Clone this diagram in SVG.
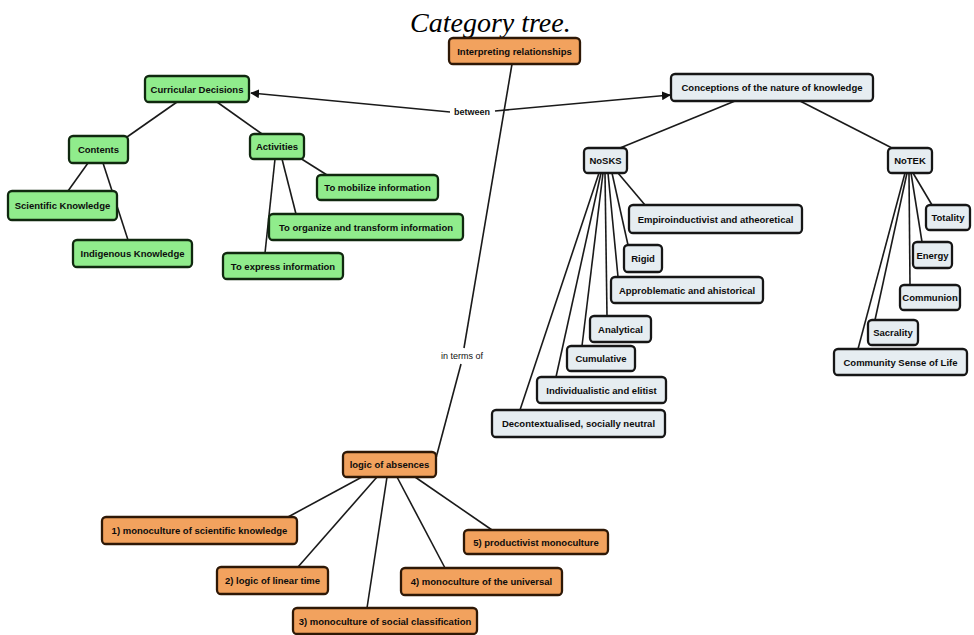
<svg xmlns="http://www.w3.org/2000/svg" width="974" height="635" viewBox="0 0 974 635">
  <defs>
    <marker id="arrow" viewBox="0 0 10 10" refX="9" refY="5" markerWidth="9" markerHeight="9" markerUnits="userSpaceOnUse" orient="auto-start-reverse">
      <path d="M0,0 L10,5 L0,10 Z" fill="#111"/>
    </marker>
    <style>
      .box rect { stroke: #161616; stroke-width: 2.3; }
      .green rect { fill: #90ec8c; stroke: #10280f; }
      .orange rect { fill: #f2a25e; stroke: #2e1806; }
      .grey rect { fill: #e6edf1; }
      .box text { font-family: "Liberation Sans", Arial, sans-serif; font-size: 9.5px; font-weight: bold; fill: #0c0c0c; text-anchor: middle; }
      .links line, .links path { stroke: #1a1a1a; stroke-width: 1.6; fill: none; }
      .lbl { font-family: "Liberation Sans", Arial, sans-serif; font-size: 9px; fill: #111; text-anchor: middle; }
      .title { font-family: "Liberation Serif", "Times New Roman", serif; font-style: italic; font-size: 28px; fill: #000; }
    </style>
  </defs>
  <rect width="974" height="635" fill="#fff"/>
  <text class="title" x="410" y="32">Category tree.</text>

  <!-- connectors -->
  <g id="connectors" class="links">
    <line x1="177" y1="102" x2="127" y2="137"/>
    <line x1="217" y1="102" x2="262" y2="134"/>
    <line x1="88" y1="163" x2="68" y2="191"/>
    <line x1="103" y1="163" x2="128" y2="240"/>
    <line x1="300" y1="158" x2="327" y2="175"/>
    <line x1="282" y1="159" x2="296" y2="214"/>
    <line x1="275" y1="159" x2="265" y2="253"/>
    <path d="M450,112 L251,93" marker-end="url(#arrow)"/>
    <path d="M495,111 L670,95" marker-end="url(#arrow)"/>
    <line x1="735" y1="101" x2="620" y2="148"/>
    <line x1="800" y1="101" x2="892" y2="148"/>
    <line x1="618" y1="173" x2="645" y2="205"/>
    <line x1="612" y1="173" x2="628" y2="245"/>
    <line x1="608" y1="173" x2="618" y2="277"/>
    <line x1="605" y1="173" x2="607" y2="316"/>
    <line x1="603" y1="173" x2="582" y2="346"/>
    <line x1="601" y1="173" x2="556" y2="377"/>
    <line x1="599" y1="173" x2="520" y2="410"/>
    <line x1="913" y1="173" x2="932" y2="205"/>
    <line x1="911" y1="173" x2="922" y2="242"/>
    <line x1="909" y1="173" x2="910" y2="285"/>
    <line x1="907" y1="173" x2="875" y2="320"/>
    <line x1="905" y1="173" x2="858" y2="349"/>
    <line x1="512" y1="64" x2="464" y2="348"/>
    <line x1="461" y1="364" x2="436" y2="458"/>
    <line x1="362" y1="477" x2="288" y2="517"/>
    <line x1="377" y1="477" x2="298" y2="567"/>
    <line x1="387" y1="477" x2="367" y2="608"/>
    <line x1="397" y1="477" x2="445" y2="568"/>
    <line x1="415" y1="477" x2="492" y2="530"/>
    <text class="lbl" x="472" y="115" font-weight="bold">between</text>
    <text class="lbl" x="462" y="359">in terms of</text>
  </g>

  <!-- curricular side -->
  <g id="n-curricular" class="box green"><rect x="145" y="76" width="104" height="26" rx="4"/><text x="197" y="92.5">Curricular Decisions</text></g>
  <g id="n-contents" class="box green"><rect x="69" y="136" width="59" height="27" rx="4"/><text x="98.5" y="153">Contents</text></g>
  <g id="n-activities" class="box green"><rect x="250" y="134" width="54" height="25" rx="4"/><text x="277" y="150">Activities</text></g>
  <g id="n-scientific" class="box green"><rect x="8" y="191" width="109" height="29" rx="4"/><text x="62.5" y="209">Scientific Knowledge</text></g>
  <g id="n-indigenous" class="box green"><rect x="73" y="240" width="119" height="27" rx="4"/><text x="132.5" y="257">Indigenous Knowledge</text></g>
  <g id="n-mobilize" class="box green"><rect x="317" y="175" width="121" height="25" rx="4"/><text x="377.5" y="191">To mobilize information</text></g>
  <g id="n-organize" class="box green"><rect x="269" y="214" width="194" height="26" rx="4"/><text x="366" y="230.5">To organize and transform information</text></g>
  <g id="n-express" class="box green"><rect x="223" y="253" width="120" height="26" rx="4"/><text x="283" y="269.5">To express information</text></g>

  <!-- relationship / absences -->
  <g id="n-interpreting" class="box orange"><rect x="449" y="38" width="131" height="26" rx="4"/><text x="514.5" y="54.5">Interpreting relationships</text></g>
  <g id="n-logic" class="box orange"><rect x="343" y="452" width="93" height="25" rx="4"/><text x="389.5" y="468">logic of absences</text></g>
  <g id="n-mono1" class="box orange"><rect x="102" y="517" width="195" height="27" rx="4"/><text x="199.5" y="534">1) monoculture of scientific knowledge</text></g>
  <g id="n-mono2" class="box orange"><rect x="217" y="567" width="111" height="27" rx="4"/><text x="272.5" y="584">2) logic of linear time</text></g>
  <g id="n-mono3" class="box orange"><rect x="293" y="608" width="184" height="26" rx="4"/><text x="385" y="624.5">3) monoculture of social classification</text></g>
  <g id="n-mono4" class="box orange"><rect x="401" y="568" width="161" height="27" rx="4"/><text x="481.5" y="585">4) monoculture of the universal</text></g>
  <g id="n-mono5" class="box orange"><rect x="464" y="530" width="144" height="24" rx="4"/><text x="536" y="545.5">5) productivist monoculture</text></g>

  <!-- knowledge conceptions -->
  <g id="n-conceptions" class="box grey"><rect x="671" y="74" width="202" height="27" rx="4"/><text x="772" y="91">Conceptions of the nature of knowledge</text></g>
  <g id="n-nosks" class="box grey"><rect x="584" y="148" width="43" height="25" rx="4"/><text x="605.5" y="164">NoSKS</text></g>
  <g id="n-notek" class="box grey"><rect x="888" y="148" width="44" height="25" rx="4"/><text x="910" y="164">NoTEK</text></g>
  <g id="n-empiro" class="box grey"><rect x="629" y="205" width="173" height="28" rx="4"/><text x="715.5" y="222.5">Empiroinductivist and atheoretical</text></g>
  <g id="n-rigid" class="box grey"><rect x="624" y="245" width="38" height="27" rx="4"/><text x="643" y="262">Rigid</text></g>
  <g id="n-approb" class="box grey"><rect x="611" y="277" width="152" height="26" rx="4"/><text x="687" y="293.5">Approblematic and ahistorical</text></g>
  <g id="n-analytical" class="box grey"><rect x="590" y="316" width="61" height="26" rx="4"/><text x="620.5" y="332.5">Analytical</text></g>
  <g id="n-cumulative" class="box grey"><rect x="567" y="346" width="68" height="25" rx="4"/><text x="601" y="362">Cumulative</text></g>
  <g id="n-individual" class="box grey"><rect x="537" y="377" width="129" height="26" rx="4"/><text x="601.5" y="393.5">Individualistic and elitist</text></g>
  <g id="n-decontext" class="box grey"><rect x="492" y="410" width="173" height="27" rx="4"/><text x="578.5" y="427">Decontextualised, socially neutral</text></g>
  <g id="n-totality" class="box grey"><rect x="926" y="205" width="44" height="25" rx="4"/><text x="948" y="221">Totality</text></g>
  <g id="n-energy" class="box grey"><rect x="913" y="242" width="39" height="26" rx="4"/><text x="932.5" y="258.5">Energy</text></g>
  <g id="n-communion" class="box grey"><rect x="900" y="285" width="60" height="25" rx="4"/><text x="930" y="301">Communion</text></g>
  <g id="n-sacrality" class="box grey"><rect x="868" y="320" width="50" height="25" rx="4"/><text x="893" y="336">Sacrality</text></g>
  <g id="n-community" class="box grey"><rect x="834" y="349" width="133" height="26" rx="4"/><text x="900.5" y="365.5">Community Sense of Life</text></g>
</svg>
